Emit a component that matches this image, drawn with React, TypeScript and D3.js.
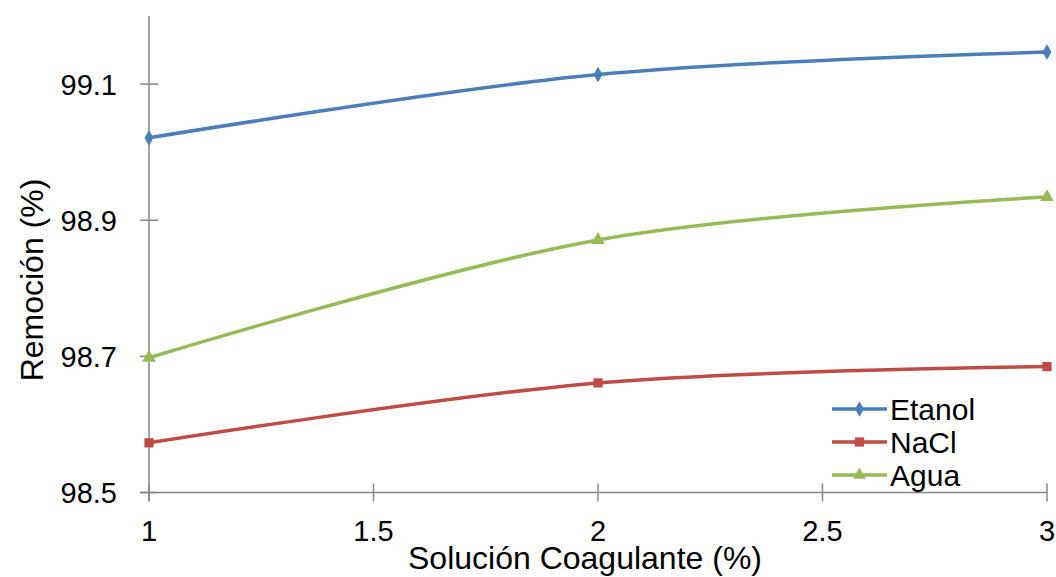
import React, { useRef, useEffect } from 'react';
import * as d3 from 'd3';

// Solución coagulante (%)
const concentrations = [1, 2, 3];
const etanol = [99.021, 99.114, 99.147];
const nacl = [98.573, 98.661, 98.685];
const agua = [98.698, 98.871, 98.934];

const xTicks = [1, 1.5, 2, 2.5, 3];
const yTicks = [98.5, 98.7, 98.9, 99.1];

const seriesNames = ['Etanol', 'NaCl', 'Agua'];
const seriesColors = ['#4a7ebb', '#be4b48', '#98b954'];
const seriesShapes = [d3.symbolDiamond, d3.symbolSquare, d3.symbolTriangle];

const W = 1056;
const H = 577;

const App: React.FC = () => {
  const svgRef = useRef<SVGSVGElement>(null);

  useEffect(() => {
    if (!svgRef.current) return;
    const svg = d3.select(svgRef.current);
    svg.selectAll('*').remove();

    const font = 'Liberation Sans, Arial, sans-serif';
    const axisColor = '#868686';

    const x = d3.scaleLinear().domain([1, 3]).range([149, 1047]);
    const y = d3.scaleLinear().domain([98.5, 99.2]).range([492.5, 16]);

    // axes
    svg.append('line')
      .attr('x1', x(1)).attr('x2', x(1))
      .attr('y1', y(99.2)).attr('y2', y(98.5) + 9)
      .attr('stroke', axisColor).attr('stroke-width', 1.5);
    svg.append('line')
      .attr('x1', x(1) - 9).attr('x2', x(3))
      .attr('y1', y(98.5)).attr('y2', y(98.5))
      .attr('stroke', axisColor).attr('stroke-width', 1.5);

    svg.selectAll('line.ytick').data(yTicks).join('line')
      .attr('class', 'ytick')
      .attr('x1', x(1) - 9).attr('x2', x(1) + 9)
      .attr('y1', d => y(d)).attr('y2', d => y(d))
      .attr('stroke', axisColor).attr('stroke-width', 1.5);

    svg.selectAll('line.xtick').data(xTicks).join('line')
      .attr('class', 'xtick')
      .attr('x1', d => x(d)).attr('x2', d => x(d))
      .attr('y1', y(98.5) - 9).attr('y2', y(98.5) + 9)
      .attr('stroke', axisColor).attr('stroke-width', 1.5);

    svg.selectAll('text.ylab').data(yTicks).join('text')
      .attr('class', 'ylab')
      .attr('x', 117).attr('y', d => y(d)).attr('dy', '0.36em')
      .attr('text-anchor', 'end')
      .attr('font-family', font).attr('font-size', 29)
      .text(d => d.toFixed(1));

    svg.selectAll('text.xlab').data(xTicks).join('text')
      .attr('class', 'xlab')
      .attr('x', d => x(d)).attr('y', 541)
      .attr('text-anchor', 'middle')
      .attr('font-family', font).attr('font-size', 29)
      .text(d => String(d));

    svg.append('text')
      .attr('x', 585).attr('y', 569)
      .attr('text-anchor', 'middle')
      .attr('font-family', font).attr('font-size', 32)
      .text('Solución Coagulante (%)');

    svg.append('text')
      .attr('transform', 'translate(43,280) rotate(-90)')
      .attr('text-anchor', 'middle')
      .attr('font-family', font).attr('font-size', 32)
      .text('Remoción (%)');

    // series
    const allSeries = [etanol, nacl, agua];
    const line = d3.line<number>()
      .x((d, i) => x(concentrations[i]))
      .y(d => y(d))
      .curve(d3.curveCatmullRom.alpha(0));

    allSeries.forEach((values, s) => {
      svg.append('path')
        .attr('d', line(values) || '')
        .attr('fill', 'none')
        .attr('stroke', seriesColors[s])
        .attr('stroke-width', 3.5);
      const size = s === 1 ? 85 : s === 0 ? 70 : 80;
      svg.selectAll(`path.m${s}`).data(values).join('path')
        .attr('class', `m${s}`)
        .attr('transform', (d, i) => `translate(${x(concentrations[i])},${y(d)})`)
        .attr('d', d3.symbol().type(seriesShapes[s]).size(size)() || '')
        .attr('fill', seriesColors[s]);
    });

    // legend
    const legendY = [409, 442, 475];
    seriesNames.forEach((name, s) => {
      const g = svg.append('g');
      g.append('line')
        .attr('x1', 832).attr('x2', 887)
        .attr('y1', legendY[s]).attr('y2', legendY[s])
        .attr('stroke', seriesColors[s]).attr('stroke-width', 3.5);
      g.append('path')
        .attr('transform', `translate(859.5,${legendY[s]})`)
        .attr('d', d3.symbol().type(seriesShapes[s]).size(s === 1 ? 85 : 70)() || '')
        .attr('fill', seriesColors[s]);
      g.append('text')
        .attr('x', 890).attr('y', legendY[s]).attr('dy', '0.36em')
        .attr('font-family', font).attr('font-size', 30)
        .text(name);
    });
  }, []);

  return (
    <svg
      ref={svgRef}
      width={W}
      height={H}
      style={{ position: 'fixed', left: 0, top: 0, background: '#fff' }}
    />
  );
};

export default App;
